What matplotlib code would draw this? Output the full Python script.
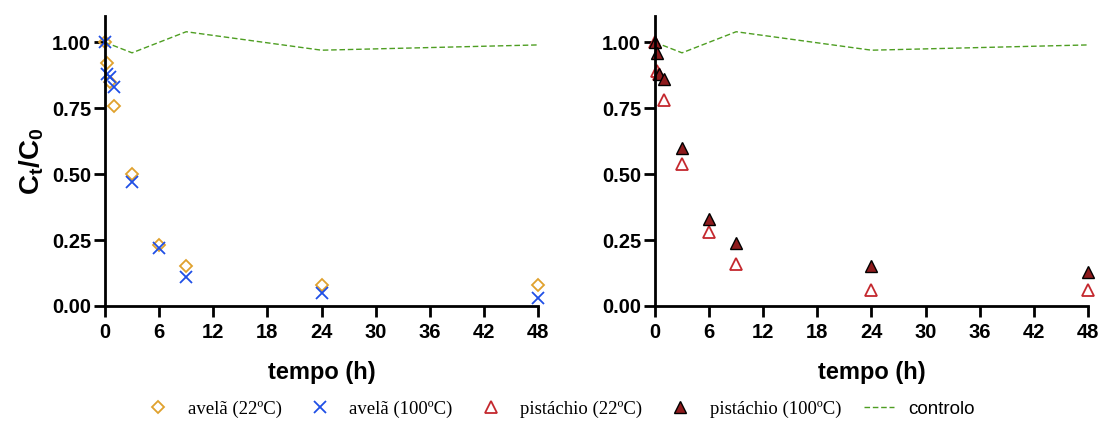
import numpy as np
import matplotlib.pyplot as plt
from matplotlib.lines import Line2D

# sampling times (h)
t = [0, 0.25, 0.5, 1, 3, 6, 9, 24, 48]

# avela (hazelnut)
avela_22 = [1.00, 0.92, 0.85, 0.76, 0.50, 0.23, 0.15, 0.08, 0.08]
avela_100 = [1.00, 0.88, 0.87, 0.83, 0.47, 0.22, 0.11, 0.05, 0.03]

# pistachio
pist_22 = [1.00, 0.89, 0.88, 0.78, 0.54, 0.28, 0.16, 0.06, 0.06]
pist_100 = [1.00, 0.96, 0.88, 0.86, 0.60, 0.33, 0.24, 0.15, 0.13]

# control
t_ctrl = [0, 3, 9, 24, 48]
ctrl = [1.00, 0.96, 1.04, 0.97, 0.99]

xticks = [0, 6, 12, 18, 24, 30, 36, 42, 48]
yticks = [0.00, 0.25, 0.50, 0.75, 1.00]

c_av22 = '#E0A12E'
c_av100 = '#1F4FE6'
c_p22 = '#C4282E'
c_p100 = '#8E1B1D'
c_ctrl = '#4E9E22'

plt.rcParams['font.family'] = ['Liberation Sans', 'DejaVu Sans']
plt.rcParams['mathtext.fontset'] = 'custom'
plt.rcParams['mathtext.rm'] = 'Liberation Sans'
plt.rcParams['mathtext.bf'] = 'Liberation Sans:bold'

fig = plt.figure(figsize=(11.03, 4.21), dpi=100)
ax1 = fig.add_axes([0.0952, 0.2732, 0.3926, 0.689])
ax2 = fig.add_axes([0.5938, 0.2732, 0.3926, 0.689])


def style_axis(ax):
    ax.set_xlim(0, 48)
    ax.set_ylim(0, 1.1)
    ax.set_xticks(xticks)
    ax.set_yticks(yticks)
    ax.set_yticklabels([f'{v:.2f}' for v in yticks])
    for s in ['top', 'right']:
        ax.spines[s].set_visible(False)
    for s in ['left', 'bottom']:
        ax.spines[s].set_linewidth(2.0)
    ax.tick_params(width=2.0, length=8, labelsize=14.5, pad=2)
    ax.tick_params(axis='x', pad=4)
    for lab in ax.get_xticklabels() + ax.get_yticklabels():
        lab.set_fontweight('bold')
    ax.set_xlabel('tempo (h)', fontsize=17, fontweight='bold', labelpad=14)


# left panel
ax1.plot(t_ctrl, ctrl, '--', color=c_ctrl, lw=1, dashes=(4, 2))
ax1.plot(t, avela_22, 'D', ms=6.5, mfc='none', mec=c_av22, mew=1.3, clip_on=False)
ax1.plot(t, avela_100, 'x', ms=9, mec=c_av100, mew=1.3, clip_on=False)
style_axis(ax1)
ax1.set_ylabel(r'$\mathbf{C_t/C_0}$', fontsize=20, labelpad=4)

# right panel
ax2.plot(t_ctrl, ctrl, '--', color=c_ctrl, lw=1, dashes=(4, 2))
ax2.plot(t, pist_22, '^', ms=9, mfc='none', mec=c_p22, mew=1.3, clip_on=False)
ax2.plot(t, pist_100, '^', ms=9, mfc=c_p100, mec='black', mew=1.0, clip_on=False)
style_axis(ax2)

handles = [
    Line2D([], [], ls='none', marker='D', ms=6.5, mfc='none', mec=c_av22, mew=1.3),
    Line2D([], [], ls='none', marker='x', ms=9, mec=c_av100, mew=1.3),
    Line2D([], [], ls='none', marker='^', ms=9, mfc='none', mec=c_p22, mew=1.3),
    Line2D([], [], ls='none', marker='^', ms=9, mfc=c_p100, mec='black', mew=1.0),
    Line2D([], [], ls='--', color=c_ctrl, lw=1, dashes=(4, 2)),
]
labels = ['avelã (22ºC)', 'avelã (100ºC)', 'pistáchio (22ºC)', 'pistáchio (100ºC)', 'controlo']
leg = fig.legend(handles, labels, loc='center', bbox_to_anchor=(0.507, 0.028), ncol=5,
                 frameon=False, prop={'family': 'Liberation Serif', 'size': 13.5},
                 handlelength=1.6, columnspacing=1.25, handletextpad=0.75)
leg.get_texts()[4].set_family('Liberation Sans')

fig.savefig('out.png', dpi=100)
